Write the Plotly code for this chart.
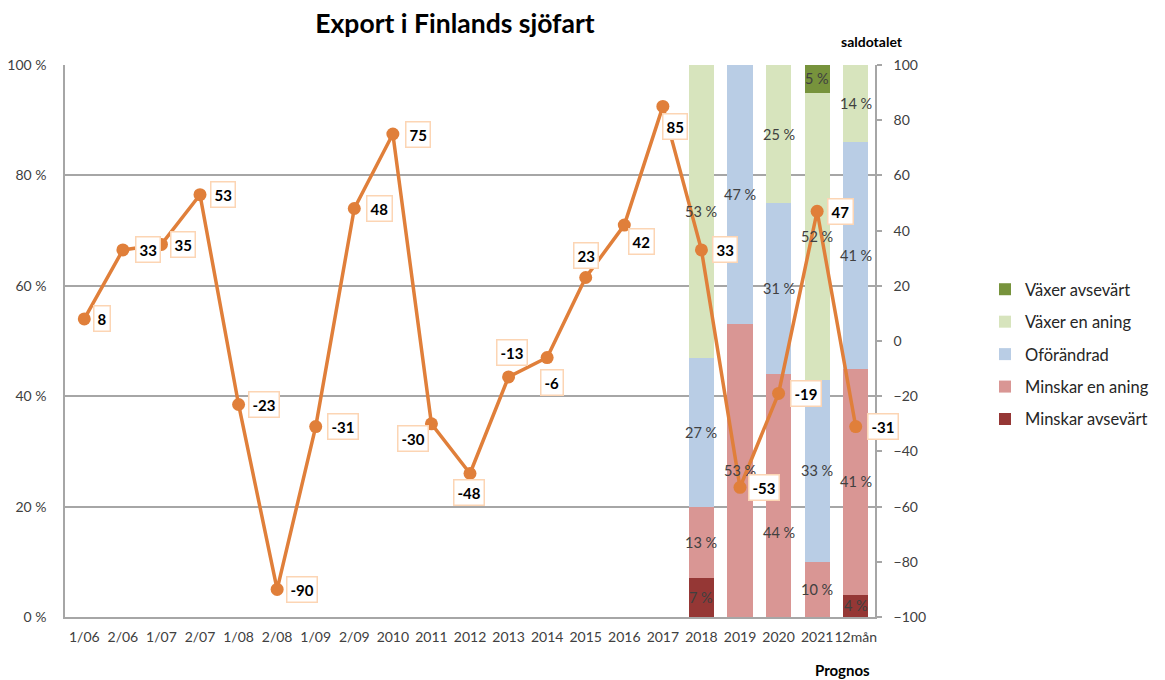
import plotly.graph_objects as go

categories = ["1/06", "2/06", "1/07", "2/07", "1/08", "2/08", "1/09", "2/09", "2010", "2011",
              "2012", "2013", "2014", "2015", "2016", "2017", "2018", "2019", "2020", "2021", "12mån"]
saldotal = [8, 33, 35, 53, -23, -90, -31, 48, 75, -30, -48, -13, -6, 23, 42, 85, 33, -53, -19, 47, -31]

forecast_cats = ["2018", "2019", "2020", "2021", "12mån"]
minskar_avsevart = [7, 0, 0, 0, 4]
minskar_en_aning = [13, 53, 44, 10, 41]
oforandrad = [27, 47, 31, 33, 41]
vaxer_en_aning = [53, 0, 25, 52, 14]
vaxer_avsevart = [0, 0, 0, 5, 0]

left_ticks = [0, 20, 40, 60, 80, 100]
right_ticks = [-100, -80, -60, -40, -20, 0, 20, 40, 60, 80, 100]

# label offsets (px) for line data labels: (dx, dy) with dy positive = up
label_offsets = [(18, 0), (25, 0), (22, 0), (23, 0), (25, 0), (25, 0), (27, 0), (25, 0), (25, 0),
                 (-18, -15), (-1, -19), (3, 24), (5, -25), (0, 22), (17, -16), (12, -20),
                 (24, 0), (24, 0), (27, 0), (23, 0), (27, 0)]
# bar labels moved away from their segment centre (series index, bar index, dy px)
moved_bar_labels = [(1, 2, -37)]

FONT = "Lato"
series = [
    ("Minskar avsevärt", minskar_avsevart, "#953735"),
    ("Minskar en aning", minskar_en_aning, "#D99694"),
    ("Oförändrad", oforandrad, "#B9CDE5"),
    ("Växer en aning", vaxer_en_aning, "#D7E4BD"),
    ("Växer avsevärt", vaxer_avsevart, "#77933C"),
]

# page body has an 8px margin: lay out in window pixels
W, H = 1165, 680
OFF = 8
PL, PR, PT, PB = 65, 875, 65, 617          # plot area in window pixels
L, T = PL - OFF, PT - OFF
R, B = W - (PR - OFF), H - (PB - OFF)
pw, ph = PR - PL, PB - PT


def px(xw):
    return (xw - PL) / pw


def py(yw):
    return (PB - yw) / ph


BAR_FONT = dict(family=FONT, size=14.5, color="#404040")
moved = {(s, b): dy for s, b, dy in moved_bar_labels}

fig = go.Figure()
annotations = []
n = len(series)
bottoms = [0] * len(forecast_cats)
for i, (name, vals, col) in enumerate(series):
    fig.add_trace(go.Bar(
        x=forecast_cats, y=vals, name=name, marker=dict(color=col, line=dict(width=0)),
        legendgroup=f"g{i}", legendrank=n - i, hoverinfo="skip",
    ))
    for j, v in enumerate(vals):
        if v:
            annotations.append(dict(
                x=categories.index(forecast_cats[j]), y=bottoms[j] + v / 2, xref="x", yref="y",
                text=f"{v} %", showarrow=False, yshift=moved.get((i, j), 0), font=BAR_FONT,
                xanchor="center", yanchor="middle"))
        bottoms[j] += v

fig.add_trace(go.Scatter(
    x=categories, y=saldotal, yaxis="y2", mode="lines+markers",
    line=dict(color="#E07F3A", width=3.5), marker=dict(size=13, color="#E07F3A"),
    showlegend=False, hoverinfo="skip",
))

for i, (v, (dx, dy)) in enumerate(zip(saldotal, label_offsets)):
    annotations.append(dict(
        x=i, y=v, xref="x", yref="y2", text=f"<b>{v}</b>", showarrow=False,
        xshift=dx, yshift=dy, bgcolor="white", bordercolor="#FCD5B4", borderwidth=1.5,
        borderpad=3, font=dict(family=FONT, size=15, color="black"),
        xanchor="center", yanchor="middle",
    ))
annotations += [
    dict(x=px(872), y=py(42), xref="paper", yref="paper", text="<b>saldotalet</b>",
         showarrow=False, xanchor="center", yanchor="middle",
         font=dict(family=FONT, size=14, color="black")),
    dict(x=px(842), y=py(670), xref="paper", yref="paper", text="<b>Prognos</b>",
         showarrow=False, xanchor="center", yanchor="middle",
         font=dict(family=FONT, size=15, color="black")),
]

fig.update_layout(
    width=W, height=H, margin=dict(l=L, r=R, t=T, b=B, autoexpand=False),
    paper_bgcolor="white", plot_bgcolor="white",
    barmode="stack", bargap=0.35,
    title=dict(text="<b>Export i Finlands sjöfart</b>", x=(455 - OFF) / W, xanchor="center",
               y=1 - (24 - OFF) / H, yanchor="middle", font=dict(family=FONT, size=26.5, color="black")),
    font=dict(family=FONT, size=14, color="#404040"),
    xaxis=dict(type="category", categoryorder="array", categoryarray=categories,
               range=[-0.5, len(categories) - 0.5], tickangle=0,
               showline=True, linecolor="#A6A6A6", linewidth=1.5, showgrid=False, ticks="",
               tickfont=dict(family=FONT, size=14, color="#404040"), ticklabelstandoff=6),
    yaxis=dict(range=[0, 100], tickvals=left_ticks, ticktext=[f"{t} %" for t in left_ticks],
               showgrid=True, gridcolor="#A6A6A6", gridwidth=1.5, showline=True,
               linecolor="#A6A6A6", linewidth=1.5, zeroline=False, ticks="",
               tickfont=dict(family=FONT, size=14, color="#404040"), ticklabelstandoff=14),
    yaxis2=dict(range=[-100, 100], tickvals=right_ticks, overlaying="y", side="right",
                showgrid=False, zeroline=False, showline=True, linecolor="#A6A6A6", linewidth=1.5,
                ticks="outside", ticklen=5, tickcolor="#A6A6A6", tickwidth=1.5,
                tickfont=dict(family=FONT, size=14, color="#404040"), ticklabelstandoff=9),
    legend=dict(x=px(985), y=py(272), xanchor="left", yanchor="top",
                traceorder="grouped", tracegroupgap=8, itemwidth=30,
                font=dict(family=FONT, size=16.5, color="#262626"), bgcolor="rgba(0,0,0,0)"),
    annotations=annotations,
)

fig.write_html("out.html")
